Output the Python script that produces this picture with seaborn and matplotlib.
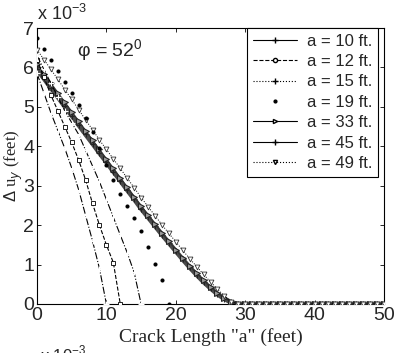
import numpy as np
import pandas as pd
import matplotlib
matplotlib.use("Agg")
import matplotlib.pyplot as plt
import seaborn as sns
from matplotlib.lines import Line2D

# ---- data (values in units of 1e-3 feet) ----
x_a10 = [0, 1, 2, 3, 4, 5, 6, 7, 8, 9, 10]
u_a10 = [5.85, 5.35, 4.85, 4.40, 3.95, 3.45, 2.90, 2.25, 1.60, 0.90, 0.0]

x_a12 = [0, 1, 2, 3, 4, 5, 6, 7, 8, 9, 10, 11, 12]
u_a12 = [6.20, 5.75, 5.30, 4.90, 4.50, 4.10, 3.65, 3.15, 2.55, 2.00, 1.50, 1.05, 0.0]

x_a15 = [0, 1, 2, 3, 4, 5, 6, 7, 8, 9, 10, 11, 12, 13, 14, 15]
u_a15 = [6.30, 5.95, 5.60, 5.25, 4.90, 4.60, 4.30, 3.90, 3.50, 3.10, 2.65,
         2.20, 1.75, 1.30, 0.80, 0.0]

x_a19 = [0, 1, 2, 3, 4, 5, 6, 7, 8, 9, 10, 11, 12, 13, 14, 15, 16, 17, 18, 19]
u_a19 = [6.75, 6.47, 6.19, 5.91, 5.63, 5.35, 5.05, 4.72, 4.36, 3.95, 3.52,
         3.15, 2.80, 2.48, 2.18, 1.86, 1.44, 1.02, 0.60, 0.0]

x_long = list(range(0, 51))
u_a33 = [6.08, 5.84, 5.60, 5.36, 5.12, 4.88, 4.64, 4.40, 4.16, 3.92, 3.68,
         3.44, 3.20, 2.96, 2.72, 2.49, 2.26, 2.03, 1.81, 1.59, 1.38, 1.17,
         0.97, 0.78, 0.60, 0.43, 0.28, 0.15, 0.05, 0.0] + [0.0] * 21
u_a45 = [5.95, 5.72, 5.48, 5.25, 5.01, 4.78, 4.54, 4.30, 4.07, 3.83, 3.60,
         3.36, 3.13, 2.89, 2.66, 2.42, 2.20, 1.98, 1.76, 1.55, 1.34, 1.13,
         0.93, 0.74, 0.56, 0.40, 0.25, 0.13, 0.04, 0.0] + [0.0] * 21
u_a49 = [6.45, 6.20, 5.95, 5.70, 5.44, 5.19, 4.93, 4.67, 4.42, 4.16, 3.92,
         3.68, 3.44, 3.19, 2.95, 2.70, 2.47, 2.24, 2.01, 1.79, 1.58, 1.36,
         1.15, 0.95, 0.75, 0.56, 0.38, 0.20, 0.06, 0.0] + [0.0] * 21

labels = ["a = 10 ft.", "a = 12 ft.", "a = 15 ft.", "a = 19 ft.",
          "a = 33 ft.", "a = 45 ft.", "a = 49 ft."]
y_ticks = [0, 1, 2, 3, 4, 5, 6, 7]
x_ticks = [0, 10, 20, 30, 40, 50]

# ---- figure ----
sns.set_style("ticks")
plt.rcParams["font.family"] = ["Liberation Sans", "DejaVu Sans"]
plt.rcParams["mathtext.fontset"] = "custom"
plt.rcParams["mathtext.rm"] = "Liberation Sans"

fig = plt.figure(figsize=(3.97, 3.53), dpi=100)
ax = fig.add_axes([37 / 397, 1 - 304 / 353, (384 - 37) / 397, (304 - 28) / 353])

# thick band curves first
sns.lineplot(x=x_long, y=u_a45, ax=ax, color="#4a4a4a", lw=3.4, marker="+",
             markersize=5, mec="#222222", label=labels[5], legend=False, zorder=3)
sns.lineplot(x=x_long, y=u_a33, ax=ax, color="#333333", lw=1.0, marker=">",
             markersize=4, mec="#222222", mfc="#999999", label=labels[4],
             legend=False, zorder=4)
sns.lineplot(x=x_long, y=u_a49, ax=ax, color="black", lw=0.7, ls=":", marker="v",
             markersize=3.5, mfc="white", mec="#333333", mew=0.6,
             label=labels[6], legend=False, zorder=4)
sns.lineplot(x=x_a10, y=u_a10, ax=ax, color="black", lw=0.8, ls="-.", marker="+",
             markersize=5, mew=0.8, label=labels[0], legend=False, zorder=5)
sns.lineplot(x=x_a12, y=u_a12, ax=ax, color="black", lw=0.8, ls="--", marker="s",
             markersize=3.5, mfc="white", mec="black", mew=0.6,
             label=labels[1], legend=False, zorder=5)
sns.lineplot(x=x_a15, y=u_a15, ax=ax, color="black", lw=0.8, ls="-.", marker="+",
             markersize=5, mew=0.8, label=labels[2], legend=False, zorder=5)
sns.lineplot(x=x_a19, y=u_a19, ax=ax, color="black", lw=0, marker="o",
             markersize=2.2, mec="black", mfc="black", label=labels[3],
             legend=False, zorder=5)

ax.set_xlim(0, 50)
ax.set_ylim(0, 7)
ax.set_xticks(x_ticks)
ax.set_yticks(y_ticks)
ax.set_xticklabels([str(t) for t in x_ticks], fontsize=14)
ax.set_yticklabels([str(t) for t in y_ticks], fontsize=14)
ax.tick_params(direction="in", length=3, width=0.7, top=True, right=True, pad=2)
for s in ax.spines.values():
    s.set_visible(True)
    s.set_linewidth(0.8)
    s.set_color("black")

ax.set_xlabel('Crack Length "a" (feet)', family=["Liberation Serif"],
              fontsize=14, labelpad=3)
ax.set_ylabel(r"$\Delta$ u$_y$ (feet)", family=["Liberation Serif"],
              fontsize=12, labelpad=-1)

fig.text(37 / 397, 1 - 20 / 353, r"x 10$^{-3}$", fontsize=13, ha="left",
         va="baseline")
ax.text(5.8, 6.25, "\u03c6 = 52$^{0}$", fontsize=14, ha="left", va="baseline")

leg_handles = [
    Line2D([], [], color="black", lw=0.8, ls="-", marker="+", markersize=4),
    Line2D([], [], color="black", lw=0.8, ls="--", marker="o", markersize=3,
           mfc="white"),
    Line2D([], [], color="black", lw=0.8, ls=":", marker="+", markersize=4),
    Line2D([], [], color="black", lw=0, marker="o", markersize=2),
    Line2D([], [], color="black", lw=0.8, ls="-", marker=">", markersize=3,
           mfc="white"),
    Line2D([], [], color="black", lw=0.8, ls="-", marker="+", markersize=4),
    Line2D([], [], color="black", lw=0.8, ls=":", marker="v", markersize=3,
           mfc="white"),
]
leg = ax.legend(leg_handles, labels, loc="upper right", fontsize=12,
                frameon=True, fancybox=False, edgecolor="black",
                framealpha=1, handlelength=2.6, handletextpad=0.6,
                labelspacing=0.32, borderpad=0.35, borderaxespad=0,
                bbox_to_anchor=(0.982, 1.0))
leg.get_frame().set_linewidth(0.8)

# partial label of the panel below (cut off at bottom in the reference)
fig.text(40 / 397, -8 / 353, r"x 10$^{-3}$", fontsize=12, ha="left",
         va="baseline")

fig.savefig("out.png", dpi=100)
